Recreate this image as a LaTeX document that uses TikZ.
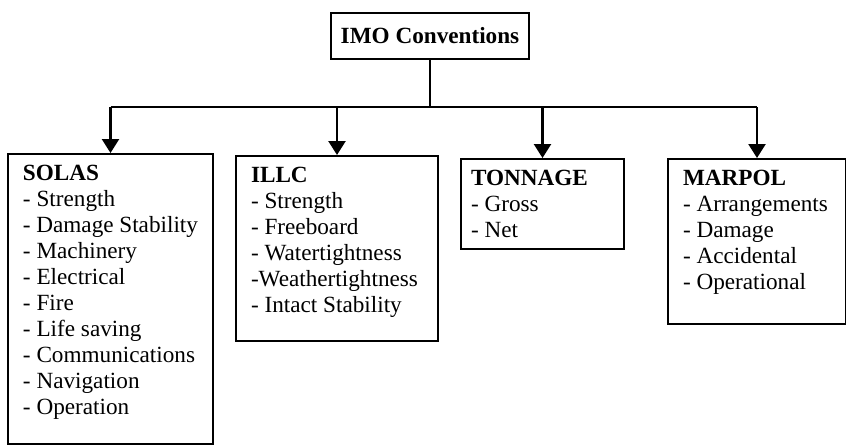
\documentclass[tikz,border=0pt]{standalone}
\usepackage{fontspec}
\setmainfont{Liberation Serif}
\usetikzlibrary{arrows.meta}
\tikzset{
  convbox/.style={draw, line width=1pt, anchor=north west, inner xsep=7.5pt, inner ysep=5.5pt,
    font=\fontsize{11.6}{13}\selectfont},
  link/.style={line width=1.2pt},
  down/.style={link, -{Triangle[width=8.5pt,length=7pt]}}
}
\begin{document}
\begin{tikzpicture}[x=0.5pt,y=-0.5pt]
  \useasboundingbox (0,0) rectangle (846,445);
  % Top box
  \node[draw, line width=1pt, minimum width=99pt, minimum height=23pt,
    font=\fontsize{11.6}{13}\selectfont\bfseries] (imo) at (430,36) {IMO Conventions};
  % The four conventions
  \node[convbox] (solas) at (7,153) {\parbox[t][134pt][t]{87.5pt}{\textbf{SOLAS}\\
    - Strength\\ - Damage Stability\\ - Machinery\\ - Electrical\\ - Fire\\
    - Life saving\\ - Communications\\ - Navigation\\ - Operation}};
  \node[convbox] (illc) at (235,155) {\parbox[t][81.5pt][t]{86pt}{\textbf{ILLC}\\
    - Strength\\ - Freeboard\\ - Watertightness\\ -Weathertightness\\ - Intact Stability}};
  \node[convbox, inner xsep=5pt] (tonnage) at (460,158) {\parbox[t][34pt][t]{71.5pt}{\textbf{TONNAGE}\\
    - Gross\\ - Net}};
  \node[convbox] (marpol) at (667,158) {\parbox[t][71.5pt][t]{74pt}{\textbf{MARPOL}\\
    - Arrangements\\ - Damage\\ - Accidental\\ - Operational}};
  % Connectors
  \coordinate (split) at (430,107);
  \draw[link] (imo.south) -- (split);
  \draw[link] (split -| solas.north) -- (split -| marpol.north);
  \foreach \conv in {solas, illc, tonnage, marpol}
    \draw[down] (split -| \conv.north) -- (\conv.north);
\end{tikzpicture}
\end{document}
